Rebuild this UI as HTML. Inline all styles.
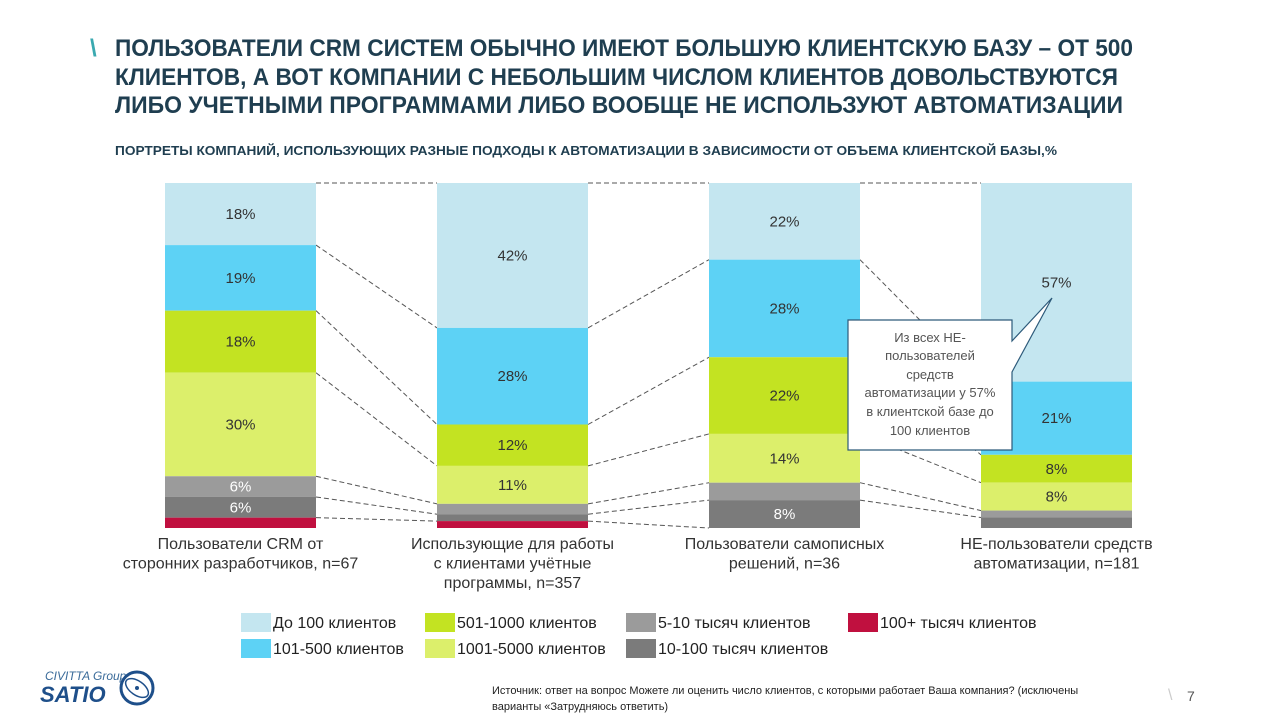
<!DOCTYPE html>
<html><head><meta charset="utf-8"><style>
html,body{margin:0;padding:0;background:#fff;}
svg{display:block;font-family:"Liberation Sans","DejaVu Sans",sans-serif;}
</style></head><body>
<svg id="chart" width="1280" height="720" viewBox="0 0 1280 720">
<g fill="#1f3e50" font-weight="bold" font-size="24">
<text x="90" y="56" fill="#3aa9b0">\</text>
<text x="115" y="56" textLength="1018" lengthAdjust="spacingAndGlyphs">ПОЛЬЗОВАТЕЛИ CRM СИСТЕМ ОБЫЧНО ИМЕЮТ БОЛЬШУЮ КЛИЕНТСКУЮ БАЗУ – ОТ 500</text>
<text x="115" y="85" textLength="1003" lengthAdjust="spacingAndGlyphs">КЛИЕНТОВ, А ВОТ КОМПАНИИ С НЕБОЛЬШИМ ЧИСЛОМ КЛИЕНТОВ ДОВОЛЬСТВУЮТСЯ</text>
<text x="115" y="113" textLength="1008" lengthAdjust="spacingAndGlyphs">ЛИБО УЧЕТНЫМИ ПРОГРАММАМИ ЛИБО ВООБЩЕ НЕ ИСПОЛЬЗУЮТ АВТОМАТИЗАЦИИ</text>
</g>
<text x="115" y="155" font-size="13" font-weight="bold" fill="#1f3e50" textLength="942" lengthAdjust="spacingAndGlyphs">ПОРТРЕТЫ КОМПАНИЙ, ИСПОЛЬЗУЮЩИХ РАЗНЫЕ ПОДХОДЫ К АВТОМАТИЗАЦИИ В ЗАВИСИМОСТИ ОТ ОБЪЕМА КЛИЕНТСКОЙ БАЗЫ,%</text>
<g id="connectors"></g>
<g id="bars"></g>
<g id="cats"></g>
<g id="legend"></g>
<g>
<path d="M848,320 H1012 V341 L1052,298 L1012,372 V450 H848 Z" fill="#fff" stroke="#2d5a7a" stroke-width="1.2"/>
<g font-size="13" fill="#555" text-anchor="middle">
<text x="930" y="342">Из всех НЕ-</text>
<text x="930" y="360">пользователей</text>
<text x="930" y="379">средств</text>
<text x="930" y="397">автоматизации у 57%</text>
<text x="930" y="416">в клиентской базе до</text>
<text x="930" y="435">100 клиентов</text>
</g></g>
<g>
<text x="45" y="680" font-size="12" font-style="italic" fill="#3a6b9a">CIVITTA Group</text>
<text x="40" y="702" font-size="22" font-weight="bold" font-style="italic" fill="#1e4f8a">SATIO</text>
<circle cx="137" cy="688" r="16" fill="none" stroke="#1e4f8a" stroke-width="3"/>
<ellipse cx="137" cy="688" rx="13" ry="7" transform="rotate(35 137 688)" fill="none" stroke="#1e4f8a" stroke-width="1.5"/>
<circle cx="137" cy="688" r="2" fill="#1e4f8a"/>
</g>
<g font-size="11" fill="#222">
<text x="492" y="694">Источник: ответ на вопрос Можете ли оценить число клиентов, с которыми работает Ваша компания? (исключены</text>
<text x="492" y="710">варианты «Затрудняюсь ответить)</text>
</g>
<text x="1168" y="700" font-size="16" fill="#ccc">\</text>
<text x="1187" y="701" font-size="14" fill="#555">7</text>
</svg>
<script>
const categories = ["Пользователи CRM от|сторонних разработчиков, n=67","Использующие для работы|с клиентами учётные|программы, n=357","Пользователи самописных|решений, n=36","НЕ-пользователи средств|автоматизации, n=181"];
const seriesNames = ["До 100 клиентов","101-500 клиентов","501-1000 клиентов","1001-5000 клиентов","5-10 тысяч клиентов","10-100 тысяч клиентов","100+ тысяч клиентов"];
const upTo100 = [18,42,22,57];
const s101_500 = [19,28,28,21];
const s501_1000 = [18,12,22,8];
const s1001_5000 = [30,11,14,8];
const s5_10k = [6,3,5,2];
const s10_100k = [6,2,8,3];
const s100kPlus = [3,2,0,0];
const series = [upTo100,s101_500,s501_1000,s1001_5000,s5_10k,s10_100k,s100kPlus];
const colors = ["#c4e6f0","#5dd2f5","#c3e322","#dcef6b","#9b9b9b","#7b7b7b","#c0103f"];
const textColors = ["#333","#333","#333","#333","#fff","#fff","#fff"];
const NS="http://www.w3.org/2000/svg";
const top0=183, bot0=528, barW=151;
const xBar = i => 165 + i*272;
function el(tag,attrs,parent){const e=document.createElementNS(NS,tag);for(const k in attrs)e.setAttribute(k,attrs[k]);parent.appendChild(e);return e;}
const gBars=document.getElementById('bars'), gCon=document.getElementById('connectors'), gCats=document.getElementById('cats'), gLeg=document.getElementById('legend');
const bounds=[];
categories.forEach((c,i)=>{
  const total=series.reduce((a,s)=>a+s[i],0);
  const yOf = cum => top0 + (bot0-top0)*cum/total;
  let cum=0; const b=[];
  series.forEach((s,j)=>{
    const v=s[i]; const y0=yOf(cum); cum+=v; const y1=yOf(cum); b.push(y1);
    if(v<=0) return;
    const r=el('rect',{x:xBar(i),y:y0,width:barW,height:y1-y0,fill:colors[j]},gBars);
    
    
    if(v>=6){
      const t=el('text',{x:xBar(i)+barW/2,y:(y0+y1)/2+5,'text-anchor':'middle','font-size':15,fill:textColors[j]},gBars);
      t.textContent=v+'%';
      
      
    }
  });
  bounds.push(b);
  const lines=c.split('|');
  lines.forEach((ln,k)=>{
    const t=el('text',{x:xBar(i)+barW/2,y:549+k*19.5,'text-anchor':'middle','font-size':16,fill:'#333'},gCats);
    t.textContent=ln;
    
    
  });
});
for(let i=0;i<categories.length-1;i++){
  const ys=[top0].concat(bounds[i].slice(0,-1)), ys2=[top0].concat(bounds[i+1].slice(0,-1));
  ys.forEach((y,k)=>{
    if(y>=bot0-0.5 && ys2[k]>=bot0-0.5) return;
    const l=el('line',{x1:xBar(i)+barW,y1:y,x2:xBar(i+1),y2:ys2[k],stroke:'#555','stroke-width':1,'stroke-dasharray':'5,3'},gCon);
    
    
  });
}
const legX=[241,241,425,425,626,626,848], legY=[613,639,613,639,613,639,613];
seriesNames.forEach((n,j)=>{
  const r=el('rect',{x:legX[j],y:legY[j],width:30,height:19,fill:colors[j]},gLeg);
  
  
  const t=el('text',{x:legX[j]+32,y:legY[j]+15,'font-size':16,fill:'#222'},gLeg);
  t.textContent=n;
  
  
});
</script>
</body></html>
